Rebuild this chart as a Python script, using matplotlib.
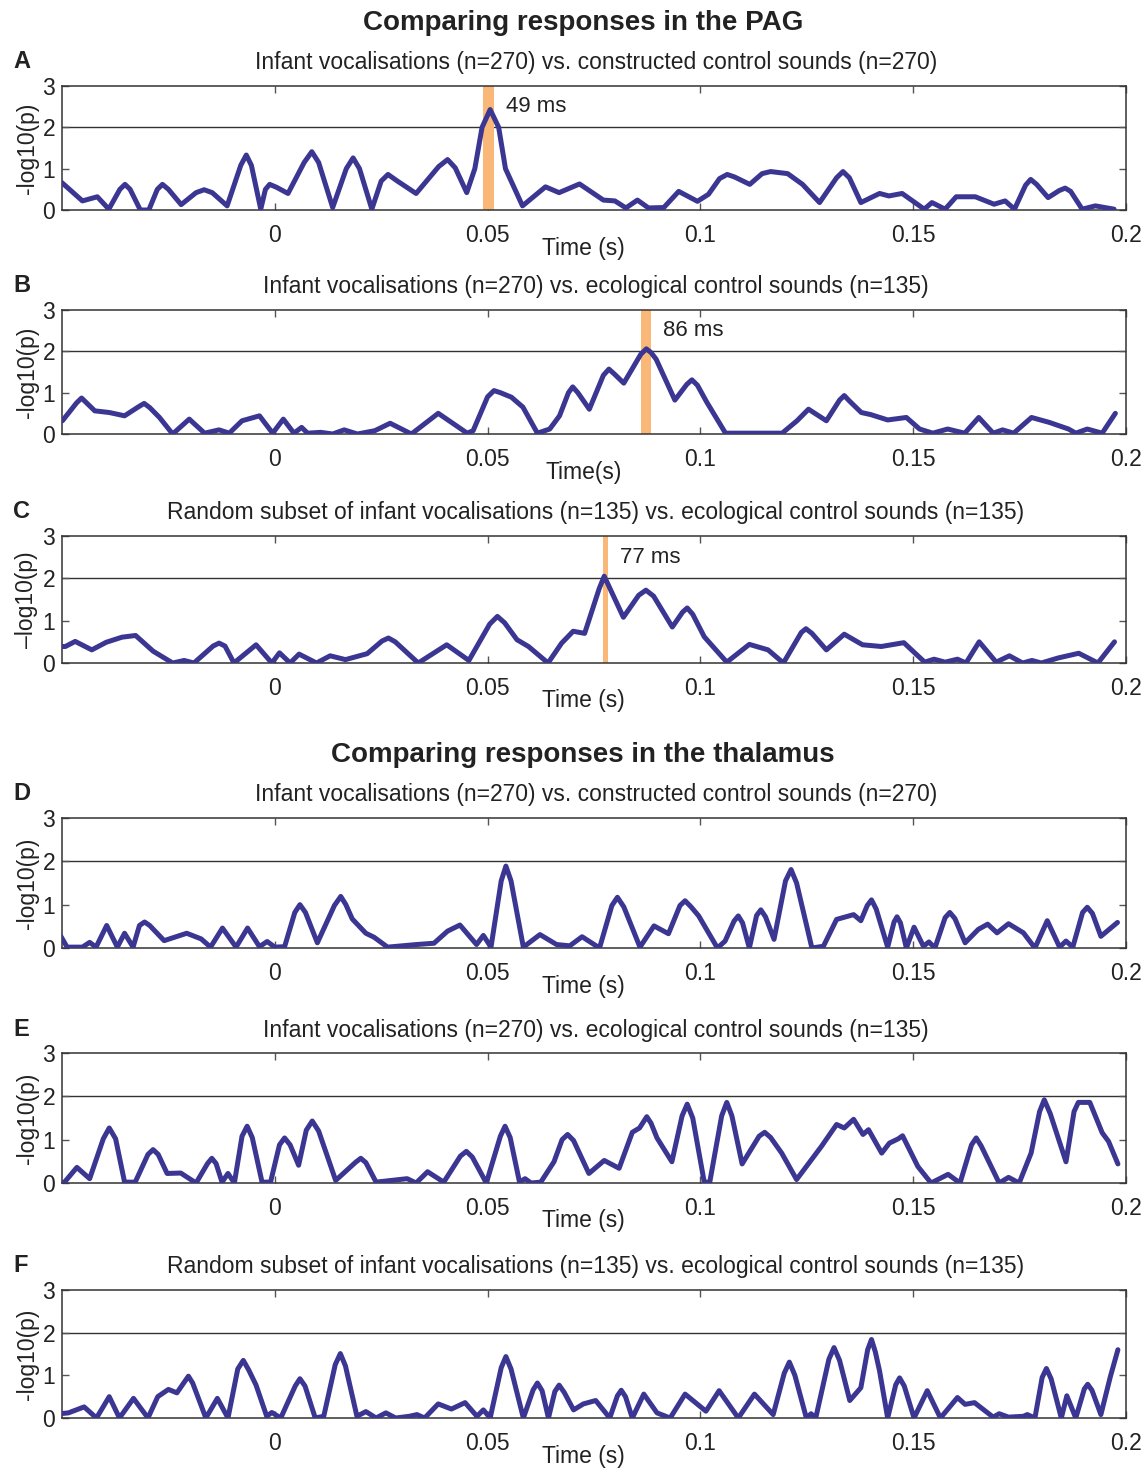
import numpy as np
import matplotlib
matplotlib.use("Agg")
import matplotlib.pyplot as plt

plt.rcParams['font.family'] = ['Liberation Sans', 'DejaVu Sans']

# -log10(p) traces, columns are (time in s, -log10 p)
trace_a = np.array([
    (-0.0500, 0.66), (-0.0452, 0.22), (-0.0417, 0.32), (-0.0390, 0.02), (-0.0364, 0.50),
    (-0.0352, 0.62), (-0.0340, 0.50), (-0.0316, 0.00), (-0.0296, 0.00), (-0.0276, 0.50),
    (-0.0264, 0.62), (-0.0250, 0.50), (-0.0220, 0.13), (-0.0185, 0.42), (-0.0166, 0.49),
    (-0.0147, 0.42), (-0.0112, 0.10), (-0.0080, 1.08), (-0.0067, 1.33), (-0.0055, 1.08),
    (-0.0033, 0.02), (-0.0022, 0.50), (-0.0012, 0.62), (0.0004, 0.55), (0.0031, 0.40),
    (0.0069, 1.15), (0.0087, 1.41), (0.0103, 1.15), (0.0136, 0.06), (0.0168, 1.00),
    (0.0184, 1.26), (0.0199, 1.00), (0.0228, 0.02), (0.0250, 0.70), (0.0266, 0.86),
    (0.0288, 0.70), (0.0332, 0.40), (0.0385, 1.05), (0.0406, 1.22), (0.0424, 1.02),
    (0.0451, 0.42), (0.0470, 1.00), (0.0487, 2.00), (0.0506, 2.43), (0.0526, 2.00),
    (0.0542, 1.00), (0.0582, 0.10), (0.0636, 0.56), (0.0668, 0.42), (0.0716, 0.63),
    (0.0772, 0.24), (0.0799, 0.22), (0.0825, 0.05), (0.0852, 0.24), (0.0878, 0.05),
    (0.0914, 0.06), (0.0949, 0.45), (0.0993, 0.21), (0.1019, 0.38), (0.1045, 0.76),
    (0.1063, 0.86), (0.1080, 0.80), (0.1116, 0.62), (0.1145, 0.88), (0.1165, 0.93),
    (0.1205, 0.88), (0.1240, 0.62), (0.1280, 0.18), (0.1320, 0.78), (0.1335, 0.93),
    (0.1350, 0.78), (0.1377, 0.18), (0.1421, 0.40), (0.1443, 0.34), (0.1474, 0.40),
    (0.1526, 0.02), (0.1544, 0.18), (0.1575, 0.02), (0.1601, 0.32), (0.1646, 0.32),
    (0.1690, 0.14), (0.1716, 0.22), (0.1738, 0.02), (0.1764, 0.60), (0.1776, 0.74),
    (0.1790, 0.62), (0.1817, 0.30), (0.1843, 0.47), (0.1857, 0.53), (0.1870, 0.45),
    (0.1897, 0.02), (0.1928, 0.10), (0.1972, 0.02),
])

trace_b = np.array([
    (-0.0499, 0.32), (-0.0466, 0.75), (-0.0454, 0.87), (-0.0442, 0.75), (-0.0423, 0.56),
    (-0.0389, 0.52), (-0.0353, 0.44), (-0.0320, 0.66), (-0.0307, 0.74), (-0.0294, 0.64),
    (-0.0271, 0.40), (-0.0240, 0.00), (-0.0201, 0.36), (-0.0165, 0.02), (-0.0131, 0.10),
    (-0.0107, 0.02), (-0.0077, 0.32), (-0.0036, 0.44), (-0.0005, 0.02), (0.0020, 0.36),
    (0.0045, 0.02), (0.0063, 0.16), (0.0077, 0.02), (0.0108, 0.04), (0.0136, 0.00),
    (0.0163, 0.10), (0.0194, 0.00), (0.0235, 0.08), (0.0271, 0.26), (0.0321, 0.00),
    (0.0384, 0.50), (0.0452, 0.02), (0.0466, 0.08), (0.0500, 0.90), (0.0515, 1.05),
    (0.0530, 1.00), (0.0556, 0.89), (0.0583, 0.65), (0.0617, 0.02), (0.0646, 0.12),
    (0.0669, 0.44), (0.0690, 1.00), (0.0700, 1.14), (0.0712, 1.00), (0.0739, 0.60),
    (0.0772, 1.42), (0.0785, 1.57), (0.0798, 1.45), (0.0820, 1.23), (0.0860, 1.93),
    (0.0873, 2.06), (0.0884, 1.97), (0.0896, 1.81), (0.0940, 0.82), (0.0968, 1.20),
    (0.0980, 1.31), (0.0993, 1.18), (0.1015, 0.77), (0.1059, 0.02), (0.1139, 0.02),
    (0.1192, 0.02), (0.1227, 0.32), (0.1254, 0.60), (0.1296, 0.32), (0.1327, 0.82),
    (0.1338, 0.93), (0.1350, 0.80), (0.1378, 0.52), (0.1400, 0.47), (0.1440, 0.34),
    (0.1484, 0.40), (0.1515, 0.12), (0.1546, 0.02), (0.1581, 0.12), (0.1621, 0.02),
    (0.1654, 0.40), (0.1688, 0.02), (0.1710, 0.10), (0.1736, 0.02), (0.1778, 0.40),
    (0.1820, 0.28), (0.1865, 0.12), (0.1882, 0.02), (0.1909, 0.12), (0.1944, 0.02),
    (0.1975, 0.50),
])

trace_c = np.array([
    (-0.0507, 0.39), (-0.0492, 0.39), (-0.0469, 0.51), (-0.0430, 0.31), (-0.0396, 0.49),
    (-0.0359, 0.61), (-0.0327, 0.65), (-0.0286, 0.28), (-0.0240, 0.00), (-0.0213, 0.06),
    (-0.0190, 0.00), (-0.0145, 0.40), (-0.0131, 0.47), (-0.0117, 0.40), (-0.0096, 0.00),
    (-0.0044, 0.43), (-0.0007, 0.00), (0.0011, 0.24), (0.0036, 0.00), (0.0057, 0.21),
    (0.0098, 0.00), (0.0130, 0.17), (0.0166, 0.08), (0.0217, 0.22), (0.0252, 0.52),
    (0.0267, 0.59), (0.0283, 0.50), (0.0337, 0.00), (0.0404, 0.43), (0.0456, 0.06),
    (0.0505, 0.92), (0.0523, 1.10), (0.0540, 0.95), (0.0569, 0.55), (0.0596, 0.39),
    (0.0642, 0.00), (0.0674, 0.47), (0.0701, 0.75), (0.0728, 0.70), (0.0762, 1.75),
    (0.0774, 2.05), (0.0788, 1.75), (0.0819, 1.08), (0.0855, 1.60), (0.0872, 1.72),
    (0.0890, 1.58), (0.0934, 0.85), (0.0958, 1.20), (0.0969, 1.30), (0.0982, 1.15),
    (0.1009, 0.62), (0.1062, 0.02), (0.1115, 0.44), (0.1159, 0.31), (0.1195, 0.00),
    (0.1237, 0.72), (0.1248, 0.81), (0.1262, 0.70), (0.1296, 0.31), (0.1338, 0.68),
    (0.1381, 0.43), (0.1425, 0.39), (0.1478, 0.48), (0.1527, 0.02), (0.1549, 0.09),
    (0.1575, 0.02), (0.1604, 0.09), (0.1624, 0.00), (0.1655, 0.50), (0.1695, 0.02),
    (0.1726, 0.17), (0.1757, 0.00), (0.1779, 0.06), (0.1801, 0.00), (0.1841, 0.12),
    (0.1889, 0.23), (0.1934, 0.00), (0.1973, 0.50),
])

trace_d = np.array([
    (-0.0508, 0.36), (-0.0488, 0.02), (-0.0452, 0.02), (-0.0435, 0.13), (-0.0420, 0.02),
    (-0.0395, 0.52), (-0.0370, 0.02), (-0.0353, 0.34), (-0.0333, 0.02), (-0.0318, 0.52),
    (-0.0306, 0.60), (-0.0294, 0.52), (-0.0260, 0.17), (-0.0207, 0.34), (-0.0173, 0.21),
    (-0.0151, 0.02), (-0.0123, 0.46), (-0.0091, 0.02), (-0.0064, 0.46), (-0.0036, 0.03),
    (-0.0018, 0.15), (0.0000, 0.02), (0.0023, 0.03), (0.0047, 0.82), (0.0059, 1.00),
    (0.0072, 0.82), (0.0100, 0.12), (0.0140, 0.98), (0.0155, 1.19), (0.0167, 1.00),
    (0.0182, 0.67), (0.0214, 0.34), (0.0233, 0.25), (0.0265, 0.02), (0.0333, 0.08),
    (0.0374, 0.11), (0.0406, 0.39), (0.0435, 0.53), (0.0474, 0.08), (0.0490, 0.29),
    (0.0508, 0.02), (0.0532, 1.55), (0.0543, 1.89), (0.0555, 1.55), (0.0584, 0.02),
    (0.0623, 0.31), (0.0662, 0.08), (0.0693, 0.05), (0.0722, 0.26), (0.0763, 0.00),
    (0.0792, 0.98), (0.0805, 1.17), (0.0820, 0.95), (0.0858, 0.02), (0.0891, 0.51),
    (0.0925, 0.33), (0.0952, 0.98), (0.0964, 1.09), (0.0978, 0.95), (0.0996, 0.74),
    (0.1040, 0.00), (0.1058, 0.16), (0.1079, 0.62), (0.1089, 0.74), (0.1099, 0.58),
    (0.1115, 0.00), (0.1132, 0.75), (0.1142, 0.88), (0.1153, 0.72), (0.1173, 0.20),
    (0.1200, 1.55), (0.1213, 1.81), (0.1226, 1.50), (0.1262, 0.00), (0.1289, 0.04),
    (0.1320, 0.66), (0.1360, 0.77), (0.1377, 0.63), (0.1392, 0.98), (0.1402, 1.11),
    (0.1413, 0.90), (0.1440, 0.02), (0.1455, 0.60), (0.1462, 0.72), (0.1470, 0.58),
    (0.1484, 0.00), (0.1502, 0.48), (0.1524, 0.04), (0.1537, 0.14), (0.1551, 0.00),
    (0.1575, 0.70), (0.1586, 0.82), (0.1598, 0.68), (0.1622, 0.12), (0.1653, 0.43),
    (0.1675, 0.55), (0.1697, 0.35), (0.1724, 0.56), (0.1759, 0.35), (0.1786, 0.00),
    (0.1815, 0.63), (0.1844, 0.02), (0.1859, 0.16), (0.1875, 0.02), (0.1898, 0.82),
    (0.1909, 0.94), (0.1921, 0.80), (0.1941, 0.27), (0.1980, 0.59),
])

trace_e = np.array([
    (-0.0505, 0.00), (-0.0494, 0.02), (-0.0465, 0.36), (-0.0435, 0.10), (-0.0403, 1.02),
    (-0.0389, 1.27), (-0.0374, 1.02), (-0.0353, 0.02), (-0.0328, 0.02), (-0.0298, 0.66),
    (-0.0286, 0.77), (-0.0274, 0.66), (-0.0253, 0.22), (-0.0221, 0.23), (-0.0185, 0.00),
    (-0.0158, 0.45), (-0.0148, 0.57), (-0.0138, 0.45), (-0.0124, 0.02), (-0.0110, 0.22),
    (-0.0095, 0.00), (-0.0077, 1.08), (-0.0065, 1.31), (-0.0053, 1.05), (-0.0030, 0.02),
    (-0.0010, 0.02), (0.0011, 0.88), (0.0023, 1.04), (0.0036, 0.88), (0.0056, 0.41),
    (0.0074, 1.22), (0.0088, 1.43), (0.0103, 1.20), (0.0143, 0.06), (0.0190, 0.48),
    (0.0202, 0.57), (0.0214, 0.47), (0.0238, 0.02), (0.0311, 0.10), (0.0332, 0.00),
    (0.0359, 0.26), (0.0397, 0.02), (0.0436, 0.62), (0.0450, 0.73), (0.0464, 0.60),
    (0.0497, 0.00), (0.0530, 1.08), (0.0541, 1.31), (0.0553, 1.05), (0.0575, 0.02),
    (0.0588, 0.10), (0.0602, 0.00), (0.0625, 0.02), (0.0656, 0.49), (0.0675, 1.00),
    (0.0688, 1.12), (0.0702, 0.98), (0.0738, 0.22), (0.0774, 0.52), (0.0809, 0.34),
    (0.0840, 1.17), (0.0857, 1.27), (0.0874, 1.53), (0.0884, 1.38), (0.0898, 1.04),
    (0.0933, 0.49), (0.0957, 1.55), (0.0969, 1.82), (0.0982, 1.50), (0.1009, 0.02),
    (0.1022, 0.02), (0.1050, 1.55), (0.1062, 1.86), (0.1074, 1.55), (0.1098, 0.44),
    (0.1138, 1.08), (0.1151, 1.17), (0.1165, 1.05), (0.1191, 0.69), (0.1226, 0.08),
    (0.1284, 0.84), (0.1320, 1.35), (0.1338, 1.27), (0.1360, 1.47), (0.1382, 1.12),
    (0.1395, 1.23), (0.1426, 0.69), (0.1444, 0.92), (0.1465, 1.02), (0.1475, 1.09),
    (0.1511, 0.38), (0.1542, 0.00), (0.1582, 0.20), (0.1610, 0.00), (0.1637, 0.88),
    (0.1648, 1.04), (0.1660, 0.85), (0.1702, 0.00), (0.1724, 0.13), (0.1749, 0.00),
    (0.1777, 0.69), (0.1797, 1.65), (0.1808, 1.92), (0.1822, 1.60), (0.1859, 0.49),
    (0.1878, 1.65), (0.1888, 1.86), (0.1915, 1.86), (0.1944, 1.16), (0.1959, 0.96),
    (0.1981, 0.44),
])

trace_f = np.array([
    (-0.0505, 0.10), (-0.0485, 0.12), (-0.0448, 0.26), (-0.0419, 0.00), (-0.0389, 0.50),
    (-0.0365, 0.00), (-0.0332, 0.46), (-0.0298, 0.00), (-0.0275, 0.50), (-0.0250, 0.67),
    (-0.0230, 0.59), (-0.0212, 0.85), (-0.0203, 0.98), (-0.0193, 0.82), (-0.0162, 0.00),
    (-0.0135, 0.46), (-0.0110, 0.00), (-0.0087, 1.15), (-0.0074, 1.35), (-0.0061, 1.12),
    (-0.0044, 0.77), (-0.0019, 0.04), (-0.0007, 0.13), (0.0014, 0.00), (0.0048, 0.75),
    (0.0059, 0.92), (0.0071, 0.75), (0.0095, 0.00), (0.0115, 0.04), (0.0142, 1.25),
    (0.0154, 1.51), (0.0166, 1.22), (0.0193, 0.04), (0.0214, 0.15), (0.0238, 0.00),
    (0.0261, 0.12), (0.0284, 0.00), (0.0316, 0.04), (0.0334, 0.08), (0.0352, 0.00),
    (0.0384, 0.33), (0.0415, 0.21), (0.0447, 0.36), (0.0475, 0.04), (0.0490, 0.19),
    (0.0506, 0.00), (0.0532, 1.18), (0.0543, 1.44), (0.0555, 1.15), (0.0584, 0.00),
    (0.0607, 0.66), (0.0617, 0.82), (0.0628, 0.64), (0.0643, 0.00), (0.0658, 0.62),
    (0.0668, 0.77), (0.0680, 0.60), (0.0702, 0.19), (0.0725, 0.33), (0.0754, 0.41),
    (0.0787, 0.00), (0.0805, 0.52), (0.0814, 0.65), (0.0824, 0.50), (0.0840, 0.00),
    (0.0867, 0.56), (0.0898, 0.12), (0.0929, 0.00), (0.0964, 0.56), (0.1013, 0.16),
    (0.1044, 0.64), (0.1089, 0.00), (0.1127, 0.56), (0.1171, 0.08), (0.1197, 1.05),
    (0.1209, 1.31), (0.1222, 1.00), (0.1249, 0.00), (0.1260, 0.10), (0.1271, 0.00),
    (0.1302, 1.38), (0.1314, 1.65), (0.1327, 1.35), (0.1351, 0.41), (0.1377, 0.71),
    (0.1393, 1.60), (0.1402, 1.84), (0.1411, 1.55), (0.1421, 1.10), (0.1440, 0.00),
    (0.1459, 0.78), (0.1468, 0.94), (0.1479, 0.75), (0.1502, 0.00), (0.1533, 0.64),
    (0.1564, 0.00), (0.1604, 0.48), (0.1622, 0.32), (0.1644, 0.36), (0.1688, 0.02),
    (0.1702, 0.10), (0.1724, 0.02), (0.1759, 0.04), (0.1768, 0.08), (0.1786, 0.00),
    (0.1803, 0.95), (0.1813, 1.16), (0.1824, 0.92), (0.1848, 0.00), (0.1861, 0.52),
    (0.1882, 0.00), (0.1902, 0.68), (0.1910, 0.79), (0.1920, 0.65), (0.1941, 0.08),
    (0.1963, 0.96), (0.1981, 1.60),
])

panel_letters = ['A', 'B', 'C', 'D', 'E', 'F']
subtitles = [
    'Infant vocalisations (n=270) vs. constructed control sounds (n=270)',
    'Infant vocalisations (n=270) vs. ecological control sounds (n=135)',
    'Random subset of infant vocalisations (n=135) vs. ecological control sounds (n=135)',
    'Infant vocalisations (n=270) vs. constructed control sounds (n=270)',
    'Infant vocalisations (n=270) vs. ecological control sounds (n=135)',
    'Random subset of infant vocalisations (n=135) vs. ecological control sounds (n=135)',
]
xlabels = ['Time (s)', 'Time(s)', 'Time (s)', 'Time (s)', 'Time (s)', 'Time (s)']
ylabels = ['-log10(p)', '-log10(p)', '\u2013log10(p)', '-log10(p)', '-log10(p)', '-log10(p)']
traces = [trace_a, trace_b, trace_c, trace_d, trace_e, trace_f]

# significant latency windows (onset in ms, width in ms) for the PAG panels
peak_onset_ms = [49, 86, 77]
peak_width_ms = [2.6, 2.4, 1.3]

xticks = [0, 0.05, 0.1, 0.15, 0.2]
xticklabels = ['0', '0.05', '0.1', '0.15', '0.2']
threshold = 2

W, H = 1146, 1479
LINE = '#3b3692'
BAND = '#f9b878'
INK = '#222222'

# axes top/bottom in pixels
rows = [(86, 210), (310, 434), (536, 663), (818, 948), (1053, 1183), (1290, 1418)]
left, right = 62, 1126

fig = plt.figure(figsize=(W / 100, H / 100), dpi=100)


def fx(x):
    return x / W


def fy(y):
    return 1 - y / H


fig.text(fx(583), fy(23), 'Comparing responses in the PAG', ha='center', va='center',
         fontsize=20, fontweight='bold', color=INK)
fig.text(fx(583), fy(755), 'Comparing responses in the thalamus', ha='center', va='center',
         fontsize=20, fontweight='bold', color=INK)

for i, (top, bottom) in enumerate(rows):
    ax = fig.add_axes([fx(left), fy(bottom), (right - left) / W, (bottom - top) / H])
    tr = traces[i][np.argsort(traces[i][:, 0])]
    ax.plot(tr[:, 0], tr[:, 1], color=LINE, lw=3.6, solid_joinstyle='round',
            solid_capstyle='round', zorder=3)
    ax.axhline(threshold, color='#333333', lw=1.0, zorder=1)

    if i < 3:
        t0 = peak_onset_ms[i] / 1000
        t1 = t0 + peak_width_ms[i] / 1000
        ax.axvspan(t0, t1, color=BAND, lw=0, zorder=2)
        ax.text(t1 + 0.0028, 2.5, f'{peak_onset_ms[i]} ms', fontsize=16,
                ha='left', va='center', color=INK)

    ax.set_xlim(-0.05, 0.2)
    ax.set_ylim(0, 3)
    ax.set_xticks(xticks)
    ax.set_xticklabels(xticklabels)
    ax.set_yticks([0, 1, 2, 3])
    ax.tick_params(direction='in', top=True, right=True, length=5, width=1,
                   labelsize=16.5, colors='#555555', labelcolor=INK)
    ax.tick_params(axis='x', pad=10)
    ax.tick_params(axis='y', pad=5)
    for s in ax.spines.values():
        s.set_color('#333333')
        s.set_linewidth(1.1)

    ax.text(0.49, -38 / (bottom - top), xlabels[i], transform=ax.transAxes,
            ha='center', va='center', fontsize=16.5, color=INK)
    fig.text(fx(27), fy((top + bottom) / 2), ylabels[i], rotation=90,
             ha='center', va='center', fontsize=16.5, color=INK)
    fig.text(fx(596), fy(top - 23), subtitles[i], ha='center', va='center',
             fontsize=16.5, color=INK)
    fig.text(fx(13), fy(top - 24), panel_letters[i], ha='left', va='center',
             fontsize=17, fontweight='bold', color=INK)

fig.savefig('out.png', dpi=100)
